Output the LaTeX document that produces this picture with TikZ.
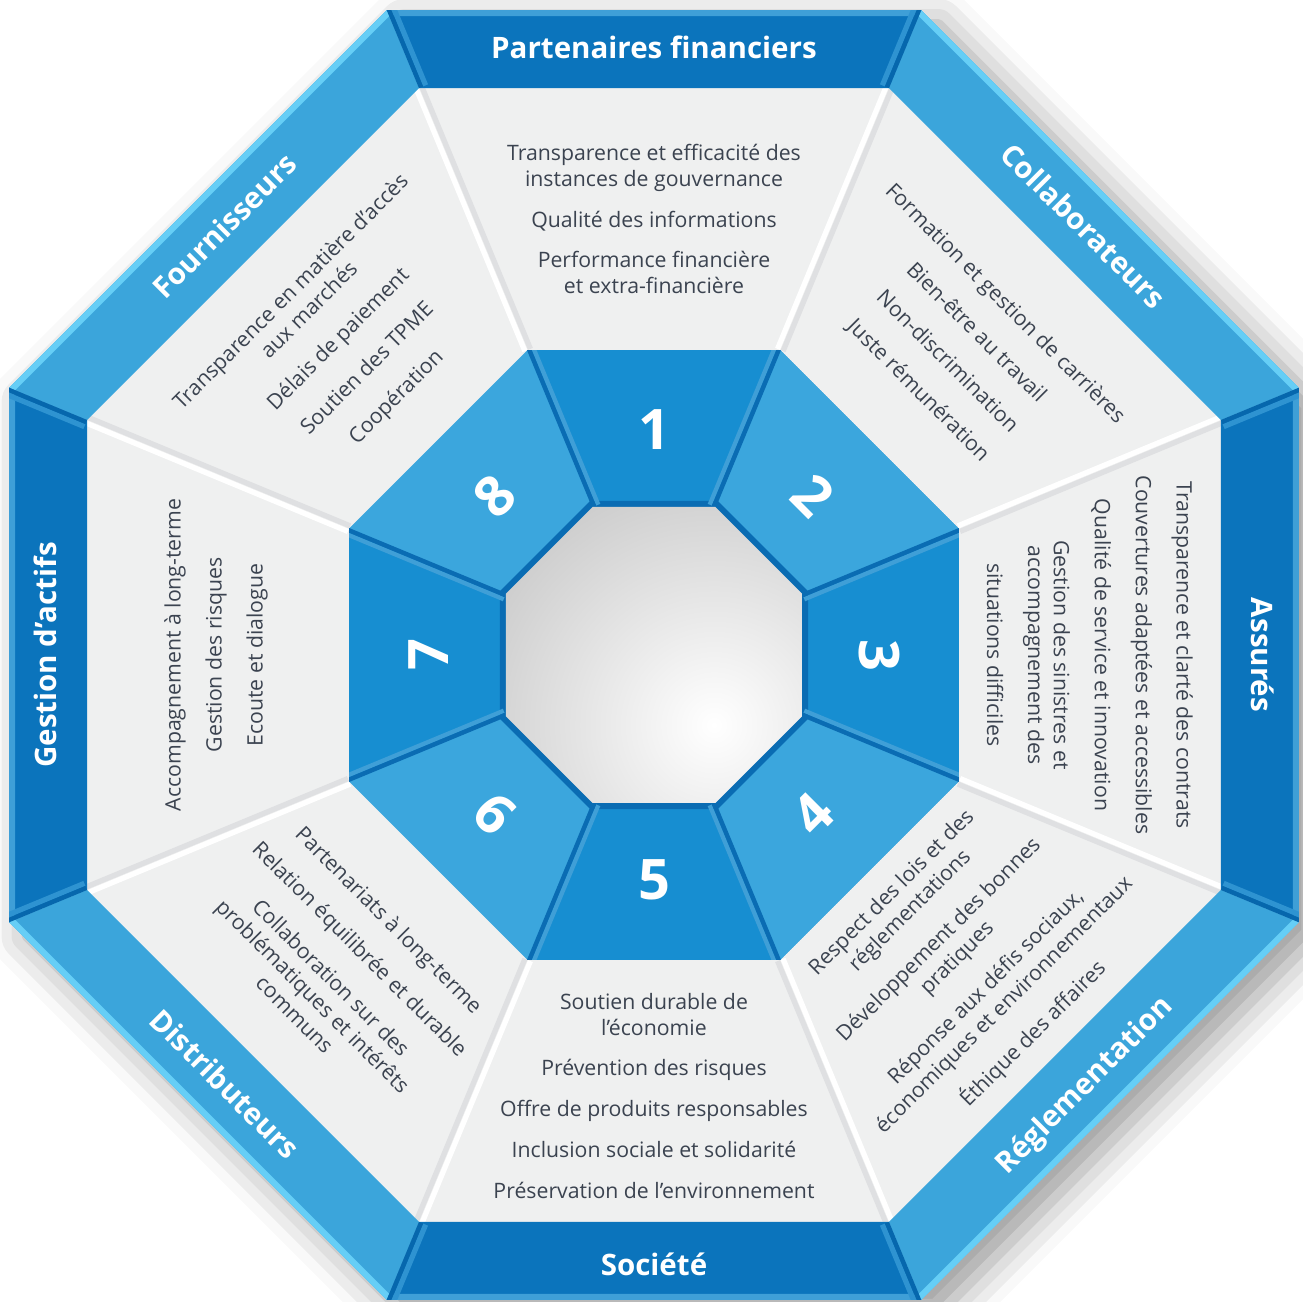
\documentclass[tikz,border=0pt]{standalone}
\usepackage{fontspec}
\setmainfont{Open Sans}
\usetikzlibrary{shadows.blur}
\definecolor{bandDark}{HTML}{0B74BC}
\definecolor{bandLight}{HTML}{3BA5DB}
\definecolor{hiDark}{HTML}{3F9FD7}
\definecolor{hiLight}{HTML}{66CEF6}
\definecolor{jointDark}{HTML}{0667AD}
\definecolor{jointHi}{HTML}{2E93D1}
\definecolor{ringDark}{HTML}{178ED1}
\definecolor{ringLight}{HTML}{3BA6DD}
\definecolor{ringEdge}{HTML}{0A6CB3}
\definecolor{sectorGray}{HTML}{EFF0F0}
\definecolor{sepGray}{HTML}{DFE0E2}
\definecolor{textGray}{HTML}{3B4350}
\definecolor{holeGray}{HTML}{A8A8A8}
\newcommand{\brk}{\\[8.6pt]}
\begin{document}
\begin{tikzpicture}[x=0.02cm, y=0.02cm]
        % Define styles for texts
        \tikzset{
            title/.style={text=white, font=\fontsize{16.8}{20}\selectfont\bfseries, text height=12pt, text depth=0pt, inner sep=0pt},
            bodytext/.style={text=textGray, font=\fontsize{12.1}{14.7}\selectfont, align=center, inner sep=0pt},
            number/.style={text=white, font=\fontsize{31.8}{34}\selectfont\bfseries, text height=22.7pt, text depth=0pt, inner sep=0pt}
        }
        % circumradii of the octagons
        \def\rOut{698.1}
        \def\rHi{691.6}
        \def\rBand{613.7}
        \def\rRing{330.1}
        \def\rEdge{166.7}
        \def\rHole{160.2}
        \useasboundingbox (-654,-647) rectangle (649,655);
        % Outer octagon with its shadow
        \fill[white, blur shadow={shadow xshift=10pt, shadow yshift=-8pt, shadow blur radius=20pt, shadow opacity=40}]
            (22.5:\rOut) \foreach \p in {67.5,112.5,...,337.5}{ -- (\p:\rOut)} -- cycle;
        % Gray sectors
        \fill[sectorGray] (22.5:\rBand) \foreach \p in {67.5,112.5,...,337.5}{ -- (\p:\rBand)} -- cycle;
        \foreach \p in {22.5,67.5,...,337.5}{
            \draw[sepGray, line width=3pt, shift={({\p-90}:3)}] (\p:\rRing) -- (\p:\rBand);
            \draw[white, line width=3pt, shift={({\p+90}:3)}] (\p:\rRing) -- (\p:\rBand);
        }
        % Outer band
        \begin{scope}
            \clip (22.5:\rOut) \foreach \p in {67.5,112.5,...,337.5}{ -- (\p:\rOut)} -- cycle;
            \foreach \a/\col/\hi in {0/bandDark/hiDark, 45/bandLight/hiLight, 90/bandDark/hiDark, 135/bandLight/hiLight,
                                     180/bandDark/hiDark, 225/bandLight/hiLight, 270/bandDark/hiDark, 315/bandLight/hiLight}{
                \fill[\col] ({\a-22.5}:\rOut) -- ({\a+22.5}:\rOut) -- ({\a+22.5}:\rBand) -- ({\a-22.5}:\rBand) -- cycle;
                \fill[\hi] ({\a-22.5}:\rOut) -- ({\a+22.5}:\rOut) -- ({\a+22.5}:\rHi) -- ({\a-22.5}:\rHi) -- cycle;
            }
            \foreach \p/\s in {22.5/-90, 67.5/90, 112.5/-90, 157.5/90, 202.5/-90, 247.5/90, 292.5/-90, 337.5/90}{
                \draw[jointHi, line width=3pt, shift={({\p+\s}:7)}] (\p:\rBand) -- (\p:\rOut);
                \draw[jointDark, line width=2.5pt, shift={({\p+\s}:2)}] (\p:\rBand) -- (\p:\rOut);
            }
        \end{scope}
        % Inner ring
        \begin{scope}
            \clip (22.5:\rRing) \foreach \p in {67.5,112.5,...,337.5}{ -- (\p:\rRing)} -- cycle;
            \foreach \a/\col in {0/ringDark, 45/ringLight, 90/ringDark, 135/ringLight,
                                 180/ringDark, 225/ringLight, 270/ringDark, 315/ringLight}{
                \fill[\col] ({\a-22.5}:\rRing) -- ({\a+22.5}:\rRing) -- ({\a+22.5}:\rHole) -- ({\a-22.5}:\rHole) -- cycle;
            }
            \fill[ringEdge] (22.5:\rEdge) \foreach \p in {67.5,112.5,...,337.5}{ -- (\p:\rEdge)} -- cycle;
            \foreach \p/\s in {22.5/-90, 67.5/90, 112.5/-90, 157.5/90, 202.5/-90, 247.5/90, 292.5/-90, 337.5/90}{
                \draw[hiDark, line width=2.5pt, shift={({\p+\s}:6)}] (\p:\rHole) -- (\p:\rRing);
                \draw[ringEdge, line width=2.5pt, shift={({\p+\s}:1.5)}] (\p:\rHole) -- (\p:\rRing);
            }
        \end{scope}
        % Center hole
        \begin{scope}
            \clip (22.5:\rHole) \foreach \p in {67.5,112.5,...,337.5}{ -- (\p:\rHole)} -- cycle;
            \shade[inner color=white, outer color=holeGray] (60,-70) circle (440);
        \end{scope}
        % Numbers
        \node[number] (n1) at (90:225) {1};
        \node[number, rotate=-45] (n2) at (45:225) {2};
        \node[number, rotate=-90] (n3) at (0:225) {3};
        \node[number, rotate=45] (n4) at (-45:225) {4};
        \node[number] (n5) at (-90:225) {5};
        \node[number, rotate=-45] (n6) at (-135:225) {6};
        \node[number, rotate=90] (n7) at (180:225) {7};
        \node[number, rotate=45] (n8) at (135:225) {8};
        % Titles in the band
        \node[title] (partenaires) at (90:607) {Partenaires financiers};
        \node[title, rotate=-45] (collaborateurs) at (45:607) {Collaborateurs};
        \node[title, rotate=-90] (assures) at (0:608) {Assurés};
        \node[title, rotate=45] (reglementation) at (-45:607) {Réglementation};
        \node[title] (societe) at (-90:610) {Société};
        \node[title, rotate=-45] (distributeurs) at (-135:607) {Distributeurs};
        \node[title, rotate=90] (gestion) at (180:608) {Gestion d'actifs};
        \node[title, rotate=45] (fournisseurs) at (135:607) {Fournisseurs};
        % Texts in the sectors
        \node[bodytext] (partenairesText) at (90:436) {Transparence et efficacité des\\instances de gouvernance\brk
            Qualité des informations\brk Performance financière\\et extra-financière};
        \node[bodytext, rotate=-45] (collaborateursText) at (45:435) {Formation et gestion de carrières\brk
            Bien-être au travail\brk Non-discrimination\brk Juste rémunération};
        \node[bodytext, rotate=-90] (assuresText) at (0:436) {Transparence et clarté des contrats\brk
            Couvertures adaptées et accessibles\brk Qualité de service et innovation\brk
            Gestion des sinistres et\\accompagnement des\brk situations difficiles};
        \node[bodytext, rotate=45] (reglementationText) at (-45:437) {Respect des lois et des\\réglementations\brk
            Développement des bonnes\\pratiques\brk Réponse aux défis sociaux,\\économiques et environnementaux\brk
            Éthique des affaires};
        \node[bodytext] (societeText) at (-90:441) {Soutien durable de\\l’économie\brk Prévention des risques\brk
            Offre de produits responsables\brk Inclusion sociale et solidarité\brk Préservation de l’environnement};
        \node[bodytext, rotate=-45] (distributeursText) at (-135:441) {Partenariats à long-terme\brk
            Relation équilibrée et durable\brk Collaboration sur des\\problématiques et intérêts\\communs};
        \node[bodytext, rotate=90] (gestionText) at (180:438) {Accompagnement à long-terme\brk
            Gestion des risques\brk Ecoute et dialogue};
        \node[bodytext, rotate=45] (fournisseursText) at (135:438) {Transparence en matière d'accès\\aux marchés\brk
            Délais de paiement\brk Soutien des TPME\brk Coopération};
\end{tikzpicture}
\end{document}
